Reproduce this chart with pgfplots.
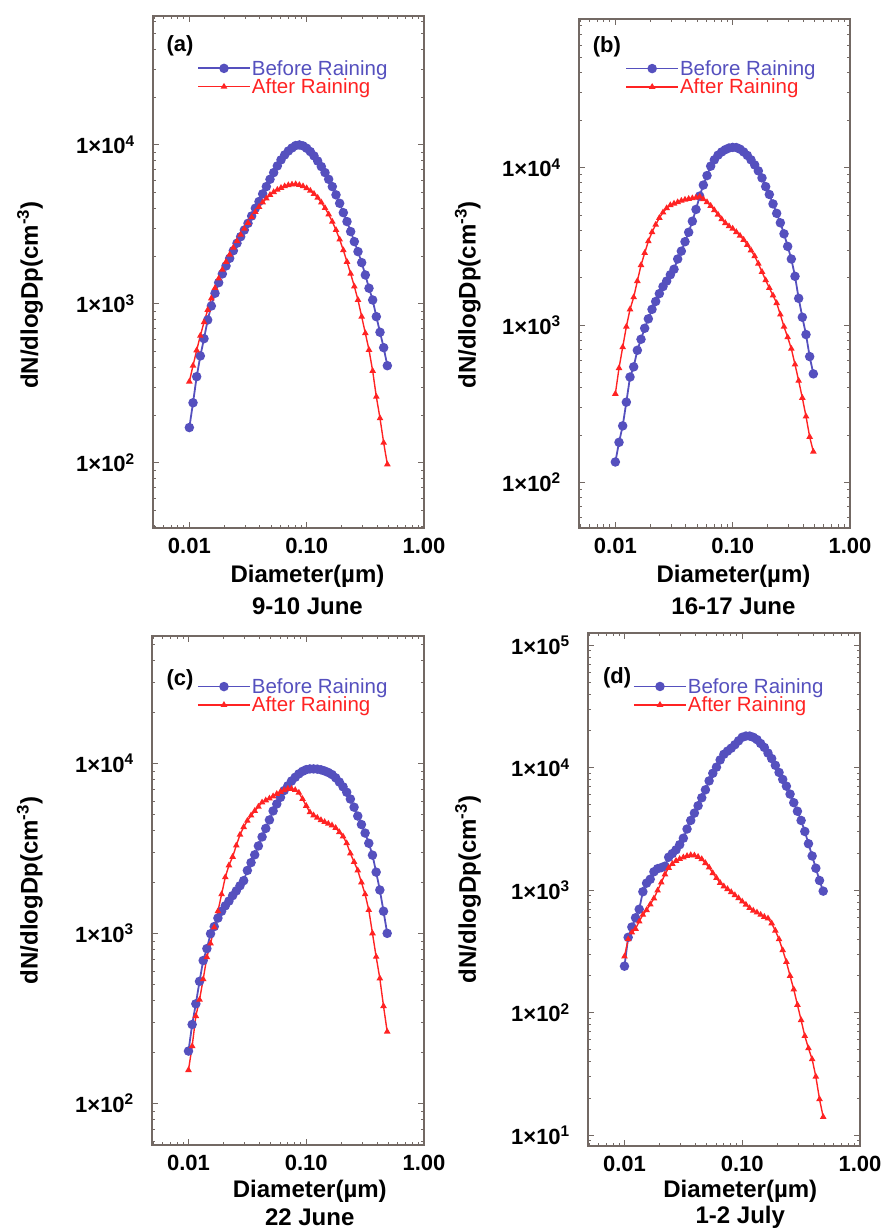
\documentclass[border=0pt]{standalone}
\usepackage{fontspec}
\setmainfont{Liberation Sans}
\usepackage{pgfplots}
\usepackage{pgfplotstable}
\pgfplotsset{compat=1.18}
\definecolor{blueC}{RGB}{85,80,190}
\definecolor{redC}{RGB}{255,35,35}
\definecolor{axisgray}{RGB}{115,105,100}

\pgfplotstableread{
x b r
0.010000 167 325
0.010746 239 409
0.011548 349 511
0.012409 471 631
0.013335 605 767
0.014330 793 916
0.015399 971 1084
0.016548 1167 1259
0.017783 1361 1445
0.019110 1545 1641
0.020535 1734 1841
0.022067 1936 2042
0.023714 2163 2259
0.025483 2410 2483
0.027384 2649 2723
0.029427 2917 2972
0.031623 3214 3236
0.033982 3573 3508
0.036517 3999 3784
0.039242 4406 4074
0.042170 4920 4345
0.045316 5470 4603
0.048697 6081 4842
0.052330 6699 5047
0.056234 7379 5224
0.060430 8054 5370
0.064938 8650 5495
0.069783 9162 5585
0.074989 9572 5636
0.080584 9908 5662
0.086596 10000 5598
0.093057 9863 5495
0.10000 9528 5346
0.10746 9078 5152
0.11548 8531 4920
0.12409 7925 4656
0.13335 7311 4345
0.14330 6699 4009
0.15399 6081 3656
0.16548 5470 3289
0.17783 4853 2917
0.19110 4295 2541
0.20535 3750 2178
0.22067 3296 1841
0.23714 2851 1549
0.25483 2466 1288
0.27384 2133 1059
0.29427 1820 832
0.31623 1521 655
0.33982 1256 514
0.36517 1059 379
0.39242 832 261
0.42170 664 191
0.45316 531 134
0.48697 409 98
}\tabA

\pgfplotstableread{
x b r
0.010000 135 366
0.010746 180 533
0.011548 229 724
0.012409 324 977
0.013335 468 1259
0.014330 543 1503
0.015399 692 1905
0.016548 813 2404
0.017783 955 2871
0.019110 1096 3412
0.020535 1259 3899
0.022067 1413 4345
0.023714 1585 4797
0.025483 1758 5200
0.027384 1905 5534
0.029427 2089 5781
0.031623 2265 5916
0.033982 2630 6039
0.036517 2951 6166
0.039242 3388 6266
0.042170 3890 6339
0.045316 4571 6397
0.048697 5433 6457
0.052330 6607 6546
0.056234 7762 6310
0.060430 8913 6039
0.064938 10230 5728
0.069783 11220 5370
0.074989 12020 5035
0.080584 12590 4710
0.086596 13030 4446
0.093057 13340 4246
0.10000 13460 4102
0.10746 13430 3899
0.11548 13120 3698
0.12409 12590 3483
0.13335 11970 3236
0.14330 11220 2985
0.15399 10420 2742
0.16548 9550 2455
0.17783 8610 2178
0.19110 7586 1928
0.20535 6761 1722
0.22067 5888 1542
0.23714 5129 1380
0.25483 4467 1167
0.27384 3802 977
0.29427 3162 837
0.31623 2630 708
0.33982 2042 562
0.36517 1479 443
0.39242 1122 345
0.42170 871 263
0.45316 631 195
0.48697 490 157
}\tabB

\pgfplotstableread{
x b r
0.010000 203 157
0.010746 291 217
0.011548 385 326
0.012409 522 407
0.013335 692 537
0.014330 813 724
0.015399 995 871
0.016548 1096 1084
0.017783 1230 1349
0.019110 1349 1698
0.020535 1452 2138
0.022067 1549 2512
0.023714 1667 2818
0.025483 1778 3289
0.027384 1905 3802
0.029427 2042 4217
0.031623 2344 4592
0.033982 2606 4932
0.036517 2897 5248
0.039242 3266 5559
0.042170 3690 5888
0.045316 4140 6053
0.048697 4645 6209
0.052330 5248 6397
0.056234 5768 6607
0.060430 6310 6792
0.064938 6918 6950
0.069783 7379 7096
0.074989 7870 7079
0.080584 8279 6966
0.086596 8670 6714
0.093057 8974 6166
0.10000 9183 5623
0.10746 9268 5152
0.11548 9268 4943
0.12409 9247 4786
0.13335 9162 4634
0.14330 9016 4519
0.15399 8831 4416
0.16548 8590 4315
0.17783 8222 4169
0.19110 7762 3936
0.20535 7278 3715
0.22067 6761 3388
0.23714 6166 2951
0.25483 5521 2630
0.27384 4898 2344
0.29427 4365 1995
0.31623 3890 1698
0.33982 3388 1371
0.36517 2884 1000
0.39242 2291 728
0.42170 1799 543
0.45316 1349 373
0.48697 1000 264
}\tabC

\pgfplotstableread{
x b r
0.010000 240 288
0.010746 413 398
0.011548 501 452
0.012409 596 484
0.013335 700 556
0.014330 973 631
0.015399 1143 689
0.016548 1230 767
0.017783 1416 857
0.019110 1500 995
0.020535 1531 1156
0.022067 1574 1349
0.023714 1862 1524
0.025483 1995 1641
0.027384 2138 1738
0.029427 2355 1799
0.031623 2661 1854
0.033982 3162 1905
0.036517 3715 1936
0.039242 4266 1923
0.042170 4898 1875
0.045316 5689 1795
0.048697 6607 1667
0.052330 7816 1535
0.056234 9016 1380
0.060430 10120 1259
0.064938 11590 1148
0.069783 12880 1076
0.074989 13680 1023
0.080584 14450 966
0.086596 15420 912
0.093057 16600 861
0.10000 17740 809
0.10746 18160 762
0.11548 18160 716
0.12409 17740 682
0.13335 16980 658
0.14330 15780 631
0.15399 14660 607
0.16548 13180 589
0.17783 11890 537
0.19110 10470 468
0.20535 9162 398
0.22067 8035 324
0.23714 7079 260
0.25483 6095 200
0.27384 5188 155
0.29427 4416 116
0.31623 3715 87.1
0.33982 3020 64.6
0.36517 2399 51.3
0.39242 1905 41.7
0.42170 1514 30.1
0.45316 1202 19.7
0.48697 984 14.1
}\tabD

\pgfplotsset{
  legend image code/.code={\draw[mark repeat=2,mark phase=2,#1] plot coordinates {(0pt,0pt) (26pt,0pt) (52pt,0pt)};},
  every axis/.append style={
    scale only axis,
    xmin=0.0049, xmax=1,
    xtick={0.01,0.1,1}, xticklabels={0.01,0.10,1.00},
    minor xtick={0.005,0.006,0.007,0.008,0.009,0.02,0.03,0.04,0.05,0.06,0.07,0.08,0.09,0.2,0.3,0.4,0.5,0.6,0.7,0.8,0.9},
    tick align=inside, xtick pos=both, ytick pos=both,
    xticklabel pos=lower, yticklabel pos=left,
    major tick length=6pt, minor tick length=3.5pt,
    axis line style={axisgray, line width=1.3pt},
    tick style={axisgray, line width=1pt},
    ticklabel style={font=\bfseries\fontsize{22}{24}\selectfont, inner sep=0pt, text=black},
    xticklabel style={yshift=-10pt},
    yticklabel style={xshift=-18pt},
    xlabel style={anchor=north, yshift=-37pt, align=center, inner sep=0pt, font=\bfseries\fontsize{24}{32}\selectfont},
    ylabel style={anchor=center, inner sep=0pt, font=\bfseries\fontsize{24}{28}\selectfont},
    legend style={draw=none, fill=none, anchor=north west, inner sep=0pt, row sep=0pt,
      font=\fontsize{20.5}{22}\selectfont, nodes={inner sep=1pt}},
    legend cell align=left,
  },
}

\begin{document}
\begin{tikzpicture}
\useasboundingbox (0,0) rectangle (885pt,1230pt);

% (a)
\begin{loglogaxis}[at={(153pt,702pt)}, anchor=south west, width=271pt, height=512pt,
  ymin=39, ymax=64700,
  ytick={100,1000,10000}, yticklabels={1×10\textsuperscript{2},1×10\textsuperscript{3},1×10\textsuperscript{4}},
  minor ytick={40,50,60,70,80,90,200,300,400,500,600,700,800,900,2000,3000,4000,5000,6000,7000,8000,9000,20000,30000,40000,50000,60000},
  xlabel={Diameter(µm)\\9-10 June}, xlabel style={at={(axis description cs:0.57,0)}},
  ylabel={dN/dlogDp(cm\textsuperscript{-3})},
  ylabel style={at={(axis description cs:-0.454,0.455)}},
  legend style={at={(0.162,0.916)}}]
\addplot[blueC, line width=1.8pt, mark=*, mark size=3.8pt, mark options={solid}] table[x=x,y=b]{\tabA};
\addlegendentry{\textcolor{blueC}{Before Raining}}
\addplot[redC, line width=1.4pt, mark=triangle*, mark size=2.5pt, mark options={solid}] table[x=x,y=r]{\tabA};
\addlegendentry{\textcolor{redC}{After Raining}}
\node[font=\bfseries\fontsize{22}{24}\selectfont] at (rel axis cs:0.1,0.941) {(a)};
\end{loglogaxis}

% (b)
\begin{loglogaxis}[at={(579pt,702pt)}, anchor=south west, width=271pt, height=509pt,
  ymin=51.4, ymax=88100,
  ytick={100,1000,10000}, yticklabels={1×10\textsuperscript{2},1×10\textsuperscript{3},1×10\textsuperscript{4}},
  minor ytick={60,70,80,90,200,300,400,500,600,700,800,900,2000,3000,4000,5000,6000,7000,8000,9000,20000,30000,40000,50000,60000,70000,80000},
  xlabel={Diameter(µm)\\16-17 June}, xlabel style={at={(axis description cs:0.57,0)}},
  ylabel={dN/dlogDp(cm\textsuperscript{-3})},
  ylabel style={at={(axis description cs:-0.41,0.458)}},
  legend style={at={(0.17,0.921)}}]
\addplot[blueC, line width=1.8pt, mark=*, mark size=3.8pt, mark options={solid}] table[x=x,y=b]{\tabB};
\addlegendentry{\textcolor{blueC}{Before Raining}}
\addplot[redC, line width=1.4pt, mark=triangle*, mark size=2.5pt, mark options={solid}] table[x=x,y=r]{\tabB};
\addlegendentry{\textcolor{redC}{After Raining}}
\node[font=\bfseries\fontsize{22}{24}\selectfont] at (rel axis cs:0.103,0.945) {(b)};
\end{loglogaxis}

% (c)
\begin{loglogaxis}[at={(152pt,85pt)}, anchor=south west, width=272pt, height=509pt,
  ymin=56.9, ymax=56100,
  ytick={100,1000,10000}, yticklabels={1×10\textsuperscript{2},1×10\textsuperscript{3},1×10\textsuperscript{4}},
  minor ytick={60,70,80,90,200,300,400,500,600,700,800,900,2000,3000,4000,5000,6000,7000,8000,9000,20000,30000,40000,50000},
  xlabel={Diameter(µm)\\22 June}, xlabel style={at={(axis description cs:0.58,0)}, yshift=2pt, font=\bfseries\fontsize{24}{27.5}\selectfont},
  ylabel={dN/dlogDp(cm\textsuperscript{-3})},
  ylabel style={at={(axis description cs:-0.449,0.5)}},
  legend style={at={(0.165,0.919)}}]
\addplot[blueC, line width=1.8pt, mark=*, mark size=3.8pt, mark options={solid}] table[x=x,y=b]{\tabC};
\addlegendentry{\textcolor{blueC}{Before Raining}}
\addplot[redC, line width=1.4pt, mark=triangle*, mark size=2.5pt, mark options={solid}] table[x=x,y=r]{\tabC};
\addlegendentry{\textcolor{redC}{After Raining}}
\node[font=\bfseries\fontsize{22}{24}\selectfont] at (rel axis cs:0.103,0.913) {(c)};
\end{loglogaxis}

% (d)
\begin{loglogaxis}[at={(588pt,84pt)}, anchor=south west, width=272pt, height=513pt,
  ymin=8.17, ymax=126000,
  ytick={10,100,1000,10000,100000},
  yticklabels={1×10\textsuperscript{1},1×10\textsuperscript{2},1×10\textsuperscript{3},1×10\textsuperscript{4},1×10\textsuperscript{5}},
  minor ytick={9,20,30,40,50,60,70,80,90,200,300,400,500,600,700,800,900,2000,3000,4000,5000,6000,7000,8000,9000,20000,30000,40000,50000,60000,70000,80000,90000},
  xlabel={Diameter(µm)\\1-2 July}, xlabel style={at={(axis description cs:0.56,0)}, yshift=3pt, font=\bfseries\fontsize{24}{26}\selectfont},
  ylabel={dN/dlogDp(cm\textsuperscript{-3})},
  ylabel style={at={(axis description cs:-0.441,0.5)}},
  legend style={at={(0.165,0.914)}}]
\addplot[blueC, line width=1.8pt, mark=*, mark size=3.8pt, mark options={solid}] table[x=x,y=b]{\tabD};
\addlegendentry{\textcolor{blueC}{Before Raining}}
\addplot[redC, line width=1.4pt, mark=triangle*, mark size=2.5pt, mark options={solid}] table[x=x,y=r]{\tabD};
\addlegendentry{\textcolor{redC}{After Raining}}
\node[font=\bfseries\fontsize{22}{24}\selectfont] at (rel axis cs:0.107,0.912) {(d)};
\end{loglogaxis}
\end{tikzpicture}
\end{document}
